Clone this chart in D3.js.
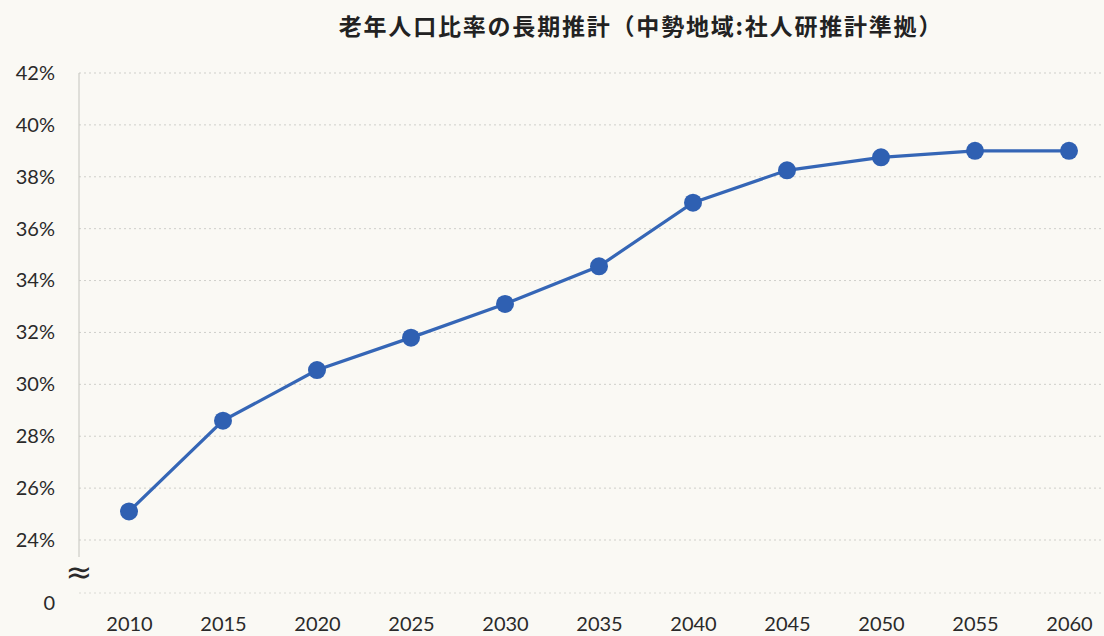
<!DOCTYPE html>
<html><head><meta charset="utf-8">
<script src="https://cdn.jsdelivr.net/npm/d3@7"></script>
<style>
html,body{margin:0;padding:0;background:#faf9f4;}
svg{display:block;}
</style></head>
<body>
<svg id="chart" width="1104" height="636"></svg>
<script>
const title = "老年人口比率の長期推計（中勢地域:社人研推計準拠）";
const years = [2010, 2015, 2020, 2025, 2030, 2035, 2040, 2045, 2050, 2055, 2060];
const ratios = [25.1, 28.6, 30.55, 31.8, 33.1, 34.55, 37.0, 38.25, 38.75, 39.0, 39.0];
const yTicks = [24, 26, 28, 30, 32, 34, 36, 38, 40, 42];
const yTickLabels = ["24%", "26%", "28%", "30%", "32%", "34%", "36%", "38%", "40%", "42%"];
const zeroLabel = "0";
const breakSymbol = "≈";

const svg = d3.select("#chart");
const W = 1104, H = 636;
const left = 79, right = 1104;

const x = d3.scalePoint().domain(years).range([129, 1069]);
// broken axis: 0 at bottom, 24%..42% main span
const y = d3.scaleLinear().domain([0, 22.6, 24, 42]).range([603, 557, 540, 73]);

svg.append("rect").attr("width", W).attr("height", H).attr("fill", "#faf9f4");

// title
svg.append("text")
  .attr("x", 641).attr("y", 35)
  .attr("text-anchor", "middle")
  .attr("font-family", "'Noto Sans CJK JP', sans-serif")
  .attr("font-weight", "bold")
  .attr("font-size", 23)
  .attr("letter-spacing", 1.8)
  .attr("fill", "#222")
  .text(title);

// gridlines
const grid = svg.append("g");
grid.selectAll("line").data(yTicks).join("line")
  .attr("x1", left).attr("x2", right)
  .attr("y1", d => y(d)).attr("y2", d => y(d))
  .attr("stroke", "#cfcfca").attr("stroke-width", 1)
  .attr("stroke-dasharray", "2,3");
grid.append("line")
  .attr("x1", left).attr("x2", right)
  .attr("y1", y(0) - 10).attr("y2", y(0) - 10)
  .attr("stroke", "#dadad4").attr("stroke-width", 1)
  .attr("stroke-dasharray", "2,3");

// y axis line
svg.append("line")
  .attr("x1", left).attr("x2", left)
  .attr("y1", y(42)).attr("y2", y(22.6))
  .attr("stroke", "#c4c4be").attr("stroke-width", 1);

// y tick labels
const yAxis = d3.axisLeft(y).tickValues(yTicks)
  .tickFormat((d, i) => yTickLabels[i]).tickSize(0).tickPadding(24);
const ya = svg.append("g").attr("transform", `translate(${left},0)`).call(yAxis);
ya.select(".domain").remove();
ya.selectAll("text")
  .attr("font-family", "Lato, 'Open Sans', sans-serif")
  .attr("font-size", 20).attr("fill", "#2a2a2a");

svg.append("text")
  .attr("x", 55).attr("y", y(0)).attr("dy", "0.35em")
  .attr("text-anchor", "end")
  .attr("font-family", "Lato, sans-serif").attr("font-size", 20).attr("fill", "#2a2a2a")
  .text(zeroLabel);
svg.append("text")
  .attr("x", left).attr("y", 572).attr("dy", "0.35em")
  .attr("text-anchor", "middle")
  .attr("font-family", "'DejaVu Sans', sans-serif").attr("font-size", 32).attr("fill", "#2a2a2a")
  .text(breakSymbol);

// x axis labels
const xAxis = d3.axisBottom(x).tickSize(0).tickPadding(0);
const xa = svg.append("g").attr("transform", `translate(0,617)`).call(xAxis);
xa.select(".domain").remove();
xa.selectAll("text")
  .attr("font-family", "Lato, 'Open Sans', sans-serif")
  .attr("font-size", 20).attr("fill", "#2a2a2a");

// line
const line = d3.line().x((d, i) => x(years[i])).y(d => y(d));
svg.append("path").datum(ratios)
  .attr("d", line)
  .attr("fill", "none")
  .attr("stroke", "#3566b6").attr("stroke-width", 3.2);

svg.append("g").selectAll("circle").data(ratios).join("circle")
  .attr("cx", (d, i) => x(years[i]))
  .attr("cy", d => y(d))
  .attr("r", 9)
  .attr("fill", "#2f60b2");
</script>
</body></html>
